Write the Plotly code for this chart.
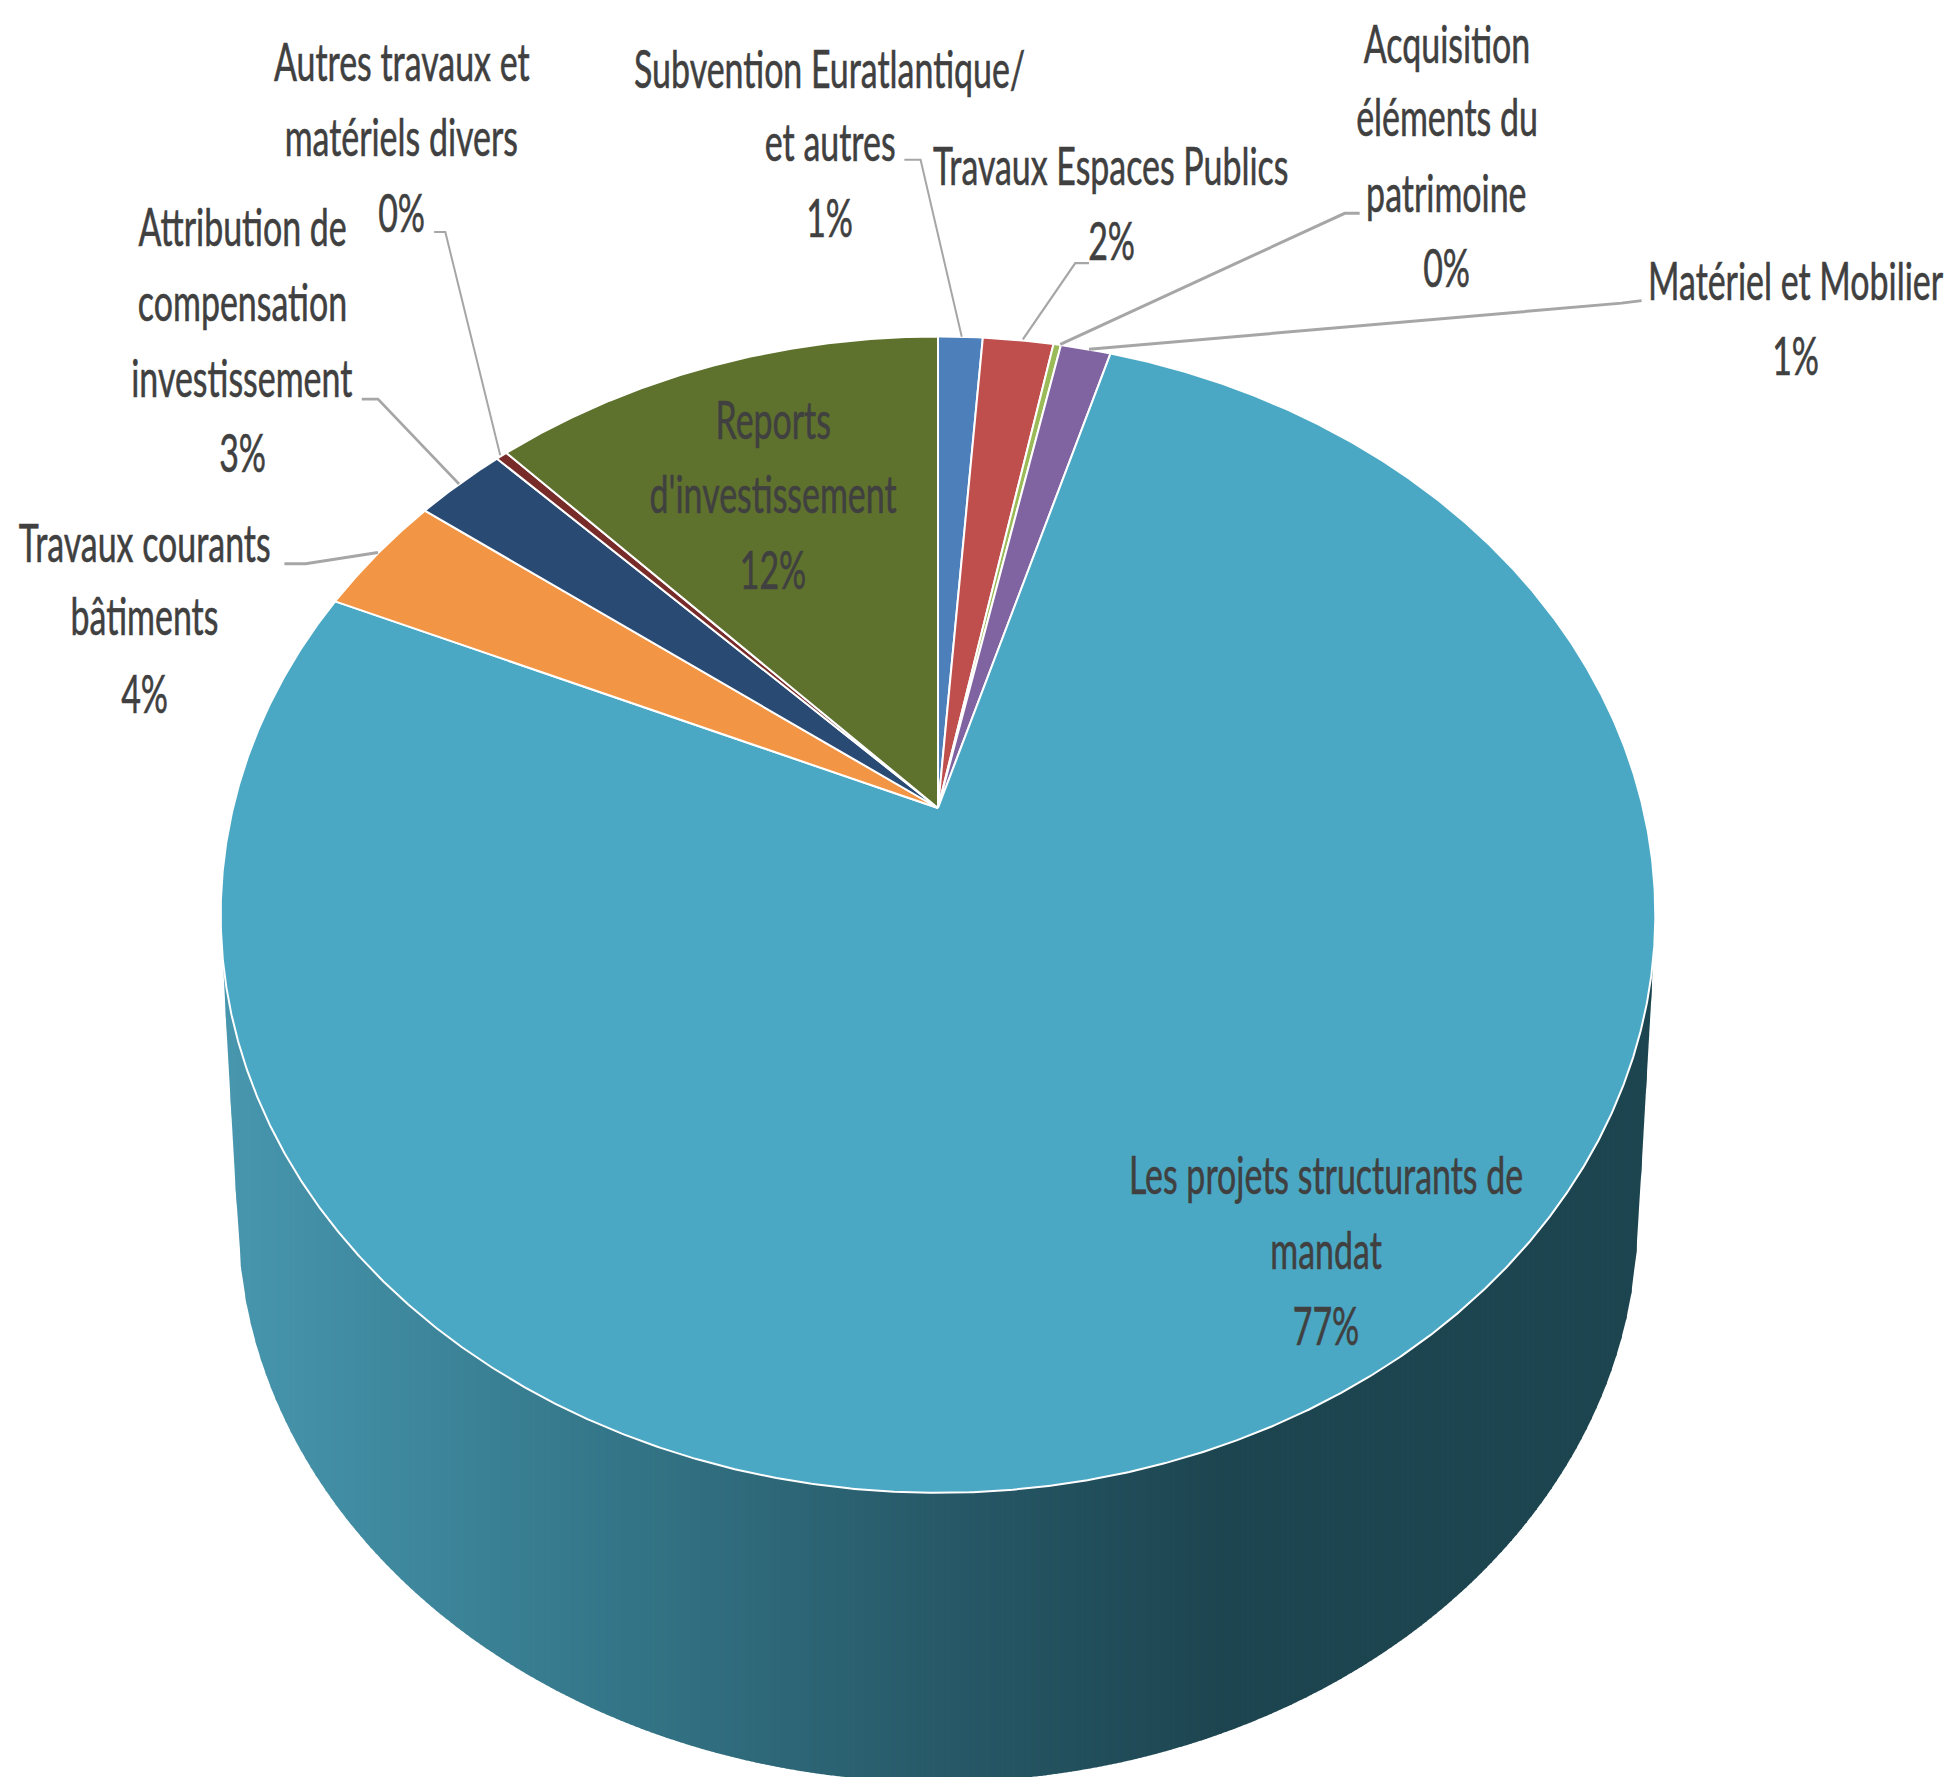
import numpy as np
import plotly.graph_objects as go

# ---- data (clockwise from 12 o'clock)
categories = ["Subvention Euratlantique/ et autres", "Travaux Espaces Publics",
              "Acquisition éléments du patrimoine", "Matériel et Mobilier",
              "Les projets structurants de mandat", "Travaux courants bâtiments",
              "Attribution de compensation investissement",
              "Autres travaux et matériels divers", "Reports d'investissement"]
values = [1.2, 1.9, 0.2, 1.35, 76.85, 3.55, 2.45, 0.3, 12.2]
percent_labels = ["1%", "2%", "0%", "1%", "77%", "4%", "3%", "0%", "12%"]
colors = ["#4d7fba", "#bf4f4c", "#9bbb59", "#8064a2", "#4aa8c4",
          "#f29545", "#294a73", "#772c2a", "#5f722d"]

label_lines = [["Subvention Euratlantique/", "et autres"],
               ["Travaux Espaces Publics"],
               ["Acquisition", "éléments du", "patrimoine"],
               ["Matériel et Mobilier"],
               ["Les projets structurants de", "mandat"],
               ["Travaux courants", "bâtiments"],
               ["Attribution de", "compensation", "investissement"],
               ["Autres travaux et", "matériels divers"],
               ["Reports", "d'investissement"]]

# ---- layout / geometry (pixels of the 1956x1777 canvas)
W, H = 1956, 1777
CX, CY = 938, 808      # projected pie centre
WD, HT, K = 705, 558.5, 0.1845   # perspective projection
BOTTOM = dict(cy=1216, a=700, b=566)
S = 1.2474
TEXT_DY = -4
label_pos = [(665, [57, 116, 177]), (891, [135, 195]), (1160, [37, 96, 157, 217]),
             (1439, [227, 287]), (1063, [944, 1004, 1065]), (116, [437, 496, 558]),
             (194, [184, 244, 305, 365]), (322, [52, 112, 173]), (620, [339, 398, 459])]
leaders = [[(725, 128), (738, 128), (771, 270)], [(873, 211), (862, 211), (820, 272)],
           [(1090, 171), (1078, 171), (850, 276)], [(1316, 241), (1300, 243), (873, 280)],
           [(228, 452), (245, 452), (303, 443)], [(290, 320), (303, 320), (368, 388)],
           [(348, 186), (357, 186), (401, 365)]]
leader_widths = [2, 2.2, 3, 3, 3, 2.6, 2]
FONT = "Lato, Liberation Sans, sans-serif"
FS = 53
SX = 0.64


def project(a):
    v = np.cos(a)
    d = 1 + K * v
    return CX + WD * np.sin(a) / d, CY - HT * v / d


def lerp_col(x):
    stops = [(237, (0x47, 0x96, 0xae)), (620, (0x34, 0x76, 0x88)), (935, (0x28, 0x5a, 0x69)),
             (1230, (0x1d, 0x45, 0x50)), (1660, (0x1d, 0x45, 0x50))]
    xs = [s[0] for s in stops]
    return "rgb(%d,%d,%d)" % tuple(np.interp(x, xs, [s[1][i] for s in stops]) for i in range(3))


fig = go.Figure()

# ---- side wall as vertical gradient strips, bounded by hull of top and bottom rims
tt = np.linspace(0, 2 * np.pi, 1441)
px, py = project(tt)
top_mid = py[np.argmin(px)]
bx = CX + BOTTOM["a"] * np.cos(tt)
by = BOTTOM["cy"] + BOTTOM["b"] * np.sin(tt)
allx = np.concatenate([px, bx])
ally = np.concatenate([py, by])
order = np.lexsort((ally, allx))
hull = []
for p in zip(allx[order], ally[order]):
    while len(hull) >= 2:
        (x1, y1), (x2, y2) = hull[-2], hull[-1]
        if (x2 - x1) * (p[1] - y1) - (y2 - y1) * (p[0] - x1) >= 0:
            hull.pop()
        else:
            break
    hull.append(p)
hx, hy = np.array(hull).T
edges = np.arange(hx.min(), hx.max() + 5, 5.0)
for x0, x1 in zip(edges[:-1], edges[1:]):
    xe = np.array([x0, min(x1 + 1, hx.max())])
    low = np.interp(xe, hx, hy)
    fig.add_trace(go.Scatter(x=[xe[0], xe[1], xe[1], xe[0]],
                             y=[top_mid, top_mid, max(low[1], top_mid), max(low[0], top_mid)],
                             fill="toself", fillcolor=lerp_col((x0 + x1) / 2), mode="none",
                             hoverinfo="skip", showlegend=False))

# ---- top wedges
cum = np.cumsum([0] + values) / sum(values) * 2 * np.pi
for name, c, a0, a1 in zip(categories, colors, cum[:-1], cum[1:]):
    t = np.linspace(a0, a1, max(3, int((a1 - a0) * 240)))
    x, y = project(t)
    fig.add_trace(go.Scatter(x=np.r_[CX, x, CX], y=np.r_[CY, y, CY], fill="toself", fillcolor=c,
                             mode="lines", line=dict(color="white", width=2), name=name,
                             hoverinfo="name", showlegend=False))

# ---- leader lines
for pts, lw in zip(leaders, leader_widths):
    fig.add_trace(go.Scatter(x=[p[0] * S for p in pts], y=[p[1] * S for p in pts], mode="lines",
                             line=dict(color="#a6a6a6", width=lw), hoverinfo="skip", showlegend=False))

# ---- labels
anns = []
for lines, pct, (lx, ys) in zip(label_lines, percent_labels, label_pos):
    for txt, ly in zip(lines + [pct], ys):
        anns.append(dict(x=lx * S, y=ly * S + TEXT_DY, text=txt, showarrow=False, xanchor="center",
                         yanchor="middle", font=dict(family=FONT, size=FS, color="#404040")))

fig.update_layout(width=W, height=H, margin=dict(l=0, r=0, t=0, b=0), paper_bgcolor="white",
                  plot_bgcolor="white", annotations=anns,
                  xaxis=dict(range=[0, W], visible=False, fixedrange=True),
                  yaxis=dict(range=[H, 0], visible=False, fixedrange=True))

# narrow the real-text labels horizontally around their own centre (reference type is condensed)
post = """
document.body.style.margin='0';
document.querySelectorAll('.annotation-text').forEach(function(t){
  var b=t.getBBox(), c=b.x+b.width/2, old=t.getAttribute('transform')||'';
  t.setAttribute('transform', old+' translate('+c+',0) scale(%s,1) translate('+(-c)+',0)');
  t.style.stroke='#404040'; t.style.strokeWidth='0.6px';
});
""" % SX
fig.write_html("out.html", config=dict(displayModeBar=False), post_script=post)
